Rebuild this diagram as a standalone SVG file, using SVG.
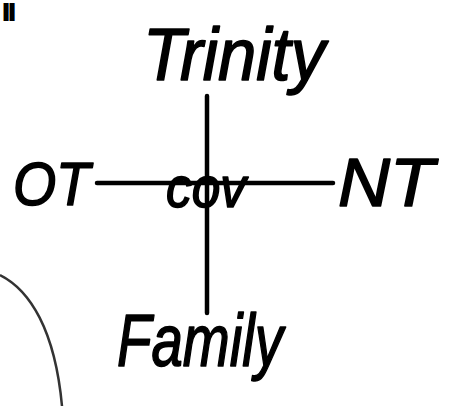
<svg xmlns="http://www.w3.org/2000/svg" width="456" height="406" viewBox="0 0 456 406">
<style>
.t{font-family:"Liberation Sans",Arial,sans-serif;font-style:italic;fill:#000;stroke:#000;stroke-width:1.6;stroke-linejoin:round}
.ln{stroke:#000;stroke-width:4.5;stroke-linecap:round;fill:none}
</style>
<rect width="456" height="406" fill="#fff"/>
<text x="3" y="20" font-family="Liberation Sans, Arial, sans-serif" font-size="22" font-weight="bold" fill="#000" stroke="#000" stroke-width="2">ll</text>
<path d="M0,275 C30,290 55,330 62,406" fill="none" stroke="#333" stroke-width="2.5"/>
<g id="connectors">
<line class="ln" x1="207" y1="96" x2="207" y2="313"/>
<line class="ln" x1="97" y1="183" x2="333" y2="183"/>
</g>
<g id="trinity"><text class="t" x="143" y="80" font-size="74" textLength="182" lengthAdjust="spacingAndGlyphs">Trinity</text></g>
<g id="ot"><text class="t" x="13" y="205" font-size="62" textLength="77" lengthAdjust="spacingAndGlyphs">OT</text></g>
<g id="nt"><text class="t" x="338" y="206" font-size="68" textLength="96" lengthAdjust="spacingAndGlyphs">NT</text></g>
<g id="cov"><text class="t" x="166" y="207" font-size="58" textLength="80" lengthAdjust="spacingAndGlyphs">cov</text></g>
<g id="family"><text class="t" x="117" y="366" font-size="74" textLength="166" lengthAdjust="spacingAndGlyphs">Family</text></g>
</svg>
